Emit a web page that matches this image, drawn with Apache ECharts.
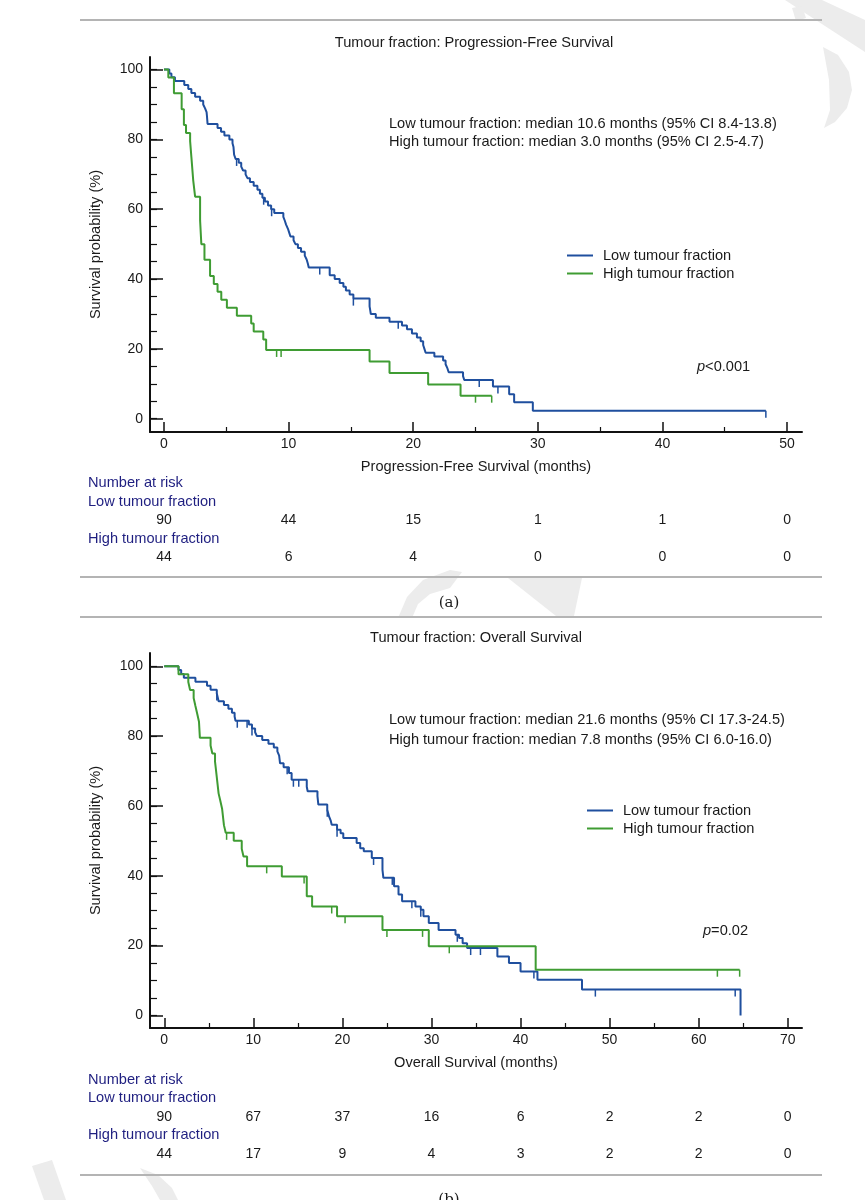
<!DOCTYPE html>
<html>
<head>
<meta charset="utf-8">
<script src="https://cdn.jsdelivr.net/npm/echarts@6/dist/echarts.min.js"></script>
<style>
  html, body { margin: 0; padding: 0; background: #fff; }
  #chart { width: 865px; height: 1200px; }
</style>
</head>
<body>
<div id="chart"></div>
<script>
// Kaplan-Meier steps: [months, survival %] after each drop
var pfsLow = [[0,100],[0.43,98.9],[0.6,97.8],[0.88,96.7],[1.63,95.6],[1.95,94.4],[2.2,93.3],[2.5,92.2],[2.9,91.1],
  [3.15,90.0],[3.3,88.9],[3.42,87.8],[3.45,86.7],[3.5,84.4],[4.3,83.3],[4.58,82.2],[4.85,81.1],[5.25,80.0],
  [5.5,78.9],[5.58,77.8],[5.63,75.6],[5.75,74.4],[6.0,73.3],[6.2,72.2],[6.35,71.1],[6.55,70.0],[6.7,68.9],
  [6.9,67.8],[7.2,66.7],[7.5,65.6],[7.7,64.4],[7.9,63.3],[8.1,62.2],[8.35,61.1],[8.6,60.0],[8.85,58.9],
  [9.58,57.8],[9.7,56.7],[9.8,55.6],[9.95,54.4],[10.05,53.3],[10.15,52.2],[10.4,51.1],[10.55,50.0],
  [10.75,48.9],[11.0,47.8],[11.3,46.7],[11.45,45.6],[11.55,44.4],[11.62,43.3],[13.3,41.1],[13.7,40.0],
  [14.1,38.9],[14.4,37.8],[14.6,36.7],[14.9,35.6],[15.2,34.4],[16.5,32.2],[16.55,31.1],[16.6,30.0],
  [17.0,28.9],[18.1,27.8],[19.1,26.7],[19.5,25.6],[19.9,24.4],[20.3,23.3],[20.6,22.2],[20.8,21.1],
  [20.9,20.0],[21.0,18.9],[21.7,17.8],[22.4,16.7],[22.6,15.6],[22.75,14.4],[22.85,13.3],[24.0,12.2],
  [24.1,11.1],[26.4,9.2],[27.7,7.0],[28.1,4.7],[29.6,2.3],[48.3,2.3]];
var pfsHigh = [[0,100],[0.35,97.7],[0.8,93.2],[1.42,88.6],[1.6,84.1],[1.77,81.8],[2.1,79.5],[2.2,75.0],
  [2.35,68.2],[2.5,63.6],[2.9,56.8],[3.0,50.0],[3.25,45.5],[3.7,40.9],[4.0,38.6],[4.3,36.4],[4.6,34.1],
  [5.05,31.8],[5.85,29.5],[7.0,27.3],[7.2,25.0],[7.97,22.7],[8.2,19.7],[16.5,16.4],[18.1,13.1],
  [21.2,9.8],[23.8,6.6],[26.3,6.6]];
var pfsLowCensor = [5.83, 8.0, 8.64, 12.5, 15.2, 18.8, 25.3, 26.8, 48.3];
var pfsHighCensor = [9.04, 9.4, 25.0, 26.3];

var osLow = [[0,100],[1.6,98.9],[1.9,97.8],[2.2,96.7],[3.5,95.6],[4.8,94.4],[5.2,93.3],[5.9,92.2],[6.0,91.1],
  [6.1,90.0],[6.7,88.9],[7.2,87.8],[7.6,86.7],[7.9,85.6],[8.0,84.4],[9.5,83.3],[9.85,82.2],[10.2,81.1],
  [10.4,80.0],[11.0,78.9],[11.7,77.8],[12.3,76.7],[12.7,75.6],[12.9,74.4],[13.0,72.2],[13.4,71.1],
  [14.0,69.4],[14.3,67.5],[16.0,65.5],[16.1,64.2],[17.2,62.8],[17.3,60.4],[18.3,58.9],[18.5,57.0],
  [18.7,55.7],[18.8,54.6],[19.4,53.2],[19.8,52.2],[20.1,50.8],[21.6,49.4],[22.0,47.9],[22.4,47.0],
  [23.3,45.1],[24.5,41.7],[24.6,39.4],[25.8,37.0],[26.3,34.6],[26.7,32.7],[28.2,31.2],[28.8,30.3],
  [29.1,28.4],[29.7,26.5],[30.8,24.5],[32.7,23.1],[33.1,22.2],[33.5,20.7],[34.0,19.3],[37.4,16.9],
  [38.7,15.0],[40.0,12.6],[41.9,10.2],[46.9,7.4],[64.7,0]];
var osHigh = [[0,100],[1.6,97.7],[2.7,95.5],[2.9,93.2],[3.3,90.9],[3.5,88.6],[3.7,86.4],[3.9,84.1],[4.0,79.5],
  [5.2,77.3],[5.4,75.0],[5.7,72.7],[5.8,70.5],[5.9,68.2],[6.0,65.9],[6.1,63.6],[6.3,61.4],[6.5,59.1],
  [6.6,56.8],[6.7,54.5],[6.9,52.3],[7.8,50.0],[8.7,47.7],[8.9,45.5],[9.3,42.7],[13.2,39.8],[16.0,34.1],
  [16.6,31.2],[19.4,28.4],[24.5,24.5],[29.7,19.8],[41.7,13.1],[64.6,13.1]];
var osLowCensor = [5.9, 8.2, 9.3, 9.85, 13.8, 14.5, 15.1, 18.3, 19.4, 23.5, 25.6, 27.8, 28.8, 32.9, 34.4, 35.5, 41.5, 48.4, 64.1];
var osHighCensor = [7.0, 11.5, 15.7, 18.8, 20.3, 25.0, 29.0, 32.0, 62.1, 64.6];

// number at risk tables
var pfsRiskTimes = [0, 10, 20, 30, 40, 50];
var pfsRiskLow = [90, 44, 15, 1, 1, 0];
var pfsRiskHigh = [44, 6, 4, 0, 0, 0];
var osRiskTimes = [0, 10, 20, 30, 40, 50, 60, 70];
var osRiskLow = [90, 67, 37, 16, 6, 2, 2, 0];
var osRiskHigh = [44, 17, 9, 4, 3, 2, 2, 0];

// tick labels
var pfsTicks = [0, 10, 20, 30, 40, 50];
var pfsMinorTicks = [5, 15, 25, 35, 45];
var osTicks = [0, 10, 20, 30, 40, 50, 60, 70];
var osMinorTicks = [5, 15, 25, 35, 45, 55, 65];
var yTicks = [0, 20, 40, 60, 80, 100];
var yMinorTicks = [0, 5, 10, 15, 20, 25, 30, 35, 40, 45, 50, 55, 60, 65, 70, 75, 80, 85, 90, 95, 100];

var names = ['Low tumour fraction', 'High tumour fraction'];
var blue = '#1f4f9e', green = '#3f9c33';
var font = '"Liberation Sans", Arial, sans-serif';
var ink = '#1a1a1a', navy = '#1f1f80';
var fs = 14.6;

// survival level at time t for a step list
function levelAt(steps, t) {
  var s = steps[0][1];
  steps.forEach(function (p) { if (p[0] <= t) s = p[1]; });
  return s;
}

function mainX(grid, min, max, ticks, title) {
  return {
    gridIndex: grid, type: 'value', min: min, max: max, position: 'bottom',
    name: title, nameLocation: 'middle', nameGap: 27,
    nameTextStyle: { fontFamily: font, fontSize: fs, color: ink },
    axisLine: { onZero: false, lineStyle: { color: '#111', width: 2 } },
    axisTick: { inside: true, length: 10, customValues: ticks, lineStyle: { color: '#111', width: 1.5 } },
    axisLabel: { customValues: ticks, margin: 5, fontFamily: font, fontSize: 14, color: ink },
    splitLine: { show: false }
  };
}
function minorX(grid, min, max, ticks) {
  return {
    gridIndex: grid, type: 'value', min: min, max: max, position: 'bottom',
    axisLine: { show: false, onZero: false },
    axisTick: { inside: true, length: 5, customValues: ticks, lineStyle: { color: '#111', width: 1.2 } },
    axisLabel: { show: false }, splitLine: { show: false }
  };
}
function hiddenX(grid, min, max) {
  return { gridIndex: grid, type: 'value', min: min, max: max, show: false };
}
function mainY(grid, min, max) {
  return {
    gridIndex: grid, type: 'value', min: min, max: max, position: 'left',
    name: 'Survival probability (%)', nameLocation: 'middle', nameGap: 47,
    nameTextStyle: { fontFamily: font, fontSize: fs, color: ink },
    axisLine: { show: true, onZero: false, lineStyle: { color: '#111', width: 2 } },
    axisTick: { show: true, inside: true, length: 13, customValues: yTicks, lineStyle: { color: '#111', width: 1.5 } },
    axisLabel: { customValues: yTicks, margin: 7, fontFamily: font, fontSize: 14, color: ink },
    splitLine: { show: false }
  };
}
function minorY(grid, min, max) {
  return {
    gridIndex: grid, type: 'value', min: min, max: max, position: 'left', offset: 0,
    axisLine: { show: false, onZero: false },
    axisTick: { show: true, inside: true, length: 7, customValues: yMinorTicks, lineStyle: { color: '#111', width: 1.2 } },
    axisLabel: { show: false }, splitLine: { show: false }
  };
}

function curve(name, steps, color, xi, yi) {
  return {
    name: name, type: 'line', step: 'end', xAxisIndex: xi, yAxisIndex: yi,
    data: steps, showSymbol: false, symbol: 'none', animation: false, z: 3,
    lineStyle: { color: color, width: 2 }, itemStyle: { color: color }
  };
}
function censor(steps, times, color, xi, yi) {
  return {
    type: 'scatter', xAxisIndex: xi, yAxisIndex: yi, animation: false, silent: true, z: 3,
    data: times.map(function (t) { return [t, levelAt(steps, t)]; }),
    symbol: 'rect', symbolSize: [1.5, 7], symbolOffset: [0, '50%'],
    itemStyle: { color: color, opacity: 1 }
  };
}
function risk(times, counts, row, xi, yi) {
  return {
    type: 'scatter', xAxisIndex: xi, yAxisIndex: yi, animation: false, silent: true,
    data: times.map(function (t, i) { return [t, row, counts[i]]; }),
    symbolSize: 0, itemStyle: { opacity: 1 },
    label: { show: true, position: 'inside', formatter: function (p) { return p.value[2]; },
      fontFamily: font, fontSize: 14, color: ink }
  };
}

function txt(x, y, s, opts) {
  opts = opts || {};
  return {
    type: 'text', x: x, y: y, silent: true, z: 10,
    style: {
      text: s, fill: opts.fill || ink, align: opts.align || 'left', verticalAlign: 'middle',
      font: (opts.size || fs) + 'px ' + (opts.family || font),
      rich: opts.rich
    }
  };
}
function rule(y) {
  return { type: 'line', silent: true, z: 10, shape: { x1: 80, y1: y, x2: 822, y2: y },
    style: { stroke: '#b4b4b4', lineWidth: 2 } };
}
// faint watermark pieces behind the figure
function shade(points) {
  return { type: 'polygon', silent: true, z: -10, shape: { points: points },
    style: { fill: '#ececec' } };
}
var italicP = { i: { fontStyle: 'italic', fontFamily: font, fontSize: fs, fill: ink } };

var option = {
  backgroundColor: '#fff',
  animation: false,
  grid: [
    { left: 150, top: 57, width: 652, height: 375 },
    { left: 150, top: 520, width: 652, height: 37 },
    { left: 150, top: 653, width: 652, height: 375 },
    { left: 150, top: 1117, width: 652, height: 37 }
  ],
  xAxis: [
    mainX(0, -1.12, 51.2, pfsTicks, 'Progression-Free Survival (months)'),
    minorX(0, -1.12, 51.2, pfsMinorTicks),
    hiddenX(1, -1.12, 51.2),
    mainX(2, -1.6, 71.6, osTicks, 'Overall Survival (months)'),
    minorX(2, -1.6, 71.6, osMinorTicks),
    hiddenX(3, -1.6, 71.6)
  ],
  yAxis: [
    mainY(0, -3.8, 103.6),
    minorY(0, -3.8, 103.6),
    { gridIndex: 1, type: 'value', min: 0, max: 1, show: false },
    mainY(2, -3.6, 103.8),
    minorY(2, -3.6, 103.8),
    { gridIndex: 3, type: 'value', min: 0, max: 1, show: false }
  ],
  legend: [
    { data: names, orient: 'vertical', left: 567, top: 248, padding: 0, itemGap: 3, itemWidth: 26, itemHeight: 2,
      icon: 'rect', selectedMode: false,
      textStyle: { fontFamily: font, fontSize: fs, color: ink, padding: [0, 0, 0, 5] } },
    { data: names, orient: 'vertical', left: 587, top: 803, padding: 0, itemGap: 3, itemWidth: 26, itemHeight: 2,
      icon: 'rect', selectedMode: false,
      textStyle: { fontFamily: font, fontSize: fs, color: ink, padding: [0, 0, 0, 5] } }
  ],
  series: [
    curve(names[0], pfsLow, blue, 0, 0),
    censor(pfsLow, pfsLowCensor, blue, 0, 0),
    curve(names[1], pfsHigh, green, 0, 0),
    censor(pfsHigh, pfsHighCensor, green, 0, 0),
    risk(pfsRiskTimes, pfsRiskLow, 1, 2, 2),
    risk(pfsRiskTimes, pfsRiskHigh, 0, 2, 2),
    curve(names[0], osLow, blue, 3, 3),
    censor(osLow, osLowCensor, blue, 3, 3),
    curve(names[1], osHigh, green, 3, 3),
    censor(osHigh, osHighCensor, green, 3, 3),
    risk(osRiskTimes, osRiskLow, 1, 5, 5),
    risk(osRiskTimes, osRiskHigh, 0, 5, 5)
  ],
  graphic: { elements: [
    shade([[785,0],[822,0],[865,20],[865,52]]),
    shade([[792,8],[802,6],[806,18],[796,21]]),
    shade([[823,47],[838,55],[849,72],[852,90],[847,108],[835,122],[824,128],[830,110],[829,80]]),
    shade([[398,618],[407,597],[423,580],[450,570],[462,572],[450,588],[430,594],[418,604],[412,618]]),
    shade([[508,578],[582,578],[574,616],[556,616]]),
    shade([[140,1168],[158,1175],[172,1188],[178,1200],[160,1200],[152,1186]]),
    shade([[32,1166],[52,1160],[66,1200],[44,1200]]),
    rule(20),
    txt(474, 43, 'Tumour fraction: Progression-Free Survival', { align: 'center' }),
    txt(389, 124, 'Low tumour fraction: median 10.6 months (95% CI 8.4-13.8)'),
    txt(389, 142, 'High tumour fraction: median 3.0 months (95% CI 2.5-4.7)'),
    txt(697, 367, '{i|p}<0.001', { rich: italicP }),
    txt(88, 483, 'Number at risk', { fill: navy }),
    txt(88, 502, 'Low tumour fraction', { fill: navy }),
    txt(88, 539, 'High tumour fraction', { fill: navy }),
    rule(577),
    txt(449, 603, '(a)', { align: 'center', size: 15, family: '"DejaVu Serif", serif' }),
    rule(617),
    txt(476, 638, 'Tumour fraction: Overall Survival', { align: 'center' }),
    txt(389, 720, 'Low tumour fraction: median 21.6 months (95% CI 17.3-24.5)'),
    txt(389, 740, 'High tumour fraction: median 7.8 months (95% CI 6.0-16.0)'),
    txt(703, 931, '{i|p}=0.02', { rich: italicP }),
    txt(88, 1080, 'Number at risk', { fill: navy }),
    txt(88, 1098, 'Low tumour fraction', { fill: navy }),
    txt(88, 1135, 'High tumour fraction', { fill: navy }),
    rule(1175),
    txt(449, 1200, '(b)', { align: 'center', size: 15, family: '"DejaVu Serif", serif' })
  ] }
};

echarts.init(document.getElementById('chart')).setOption(option);
</script>
</body>
</html>
